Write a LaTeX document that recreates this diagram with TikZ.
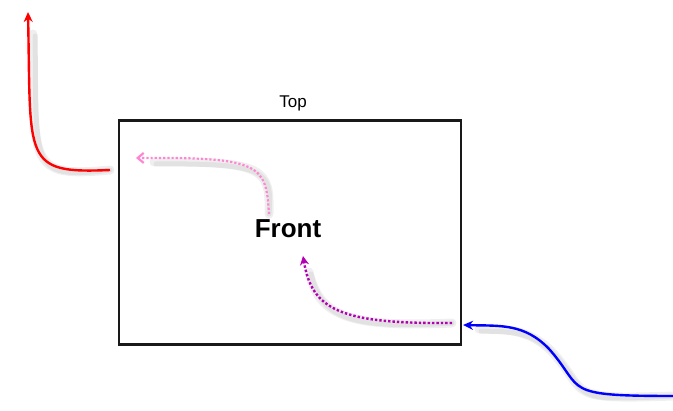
\documentclass[tikz,border=0pt]{standalone}
\usepackage{fontspec}
\setmainfont{Liberation Sans}
\usetikzlibrary{arrows.meta}
\tikzset{
  shad/.style={draw=black!60, opacity=0.1, line cap=round},
  redarr/.style={draw=red, line width=2.4pt, -{Stealth[length=10pt,width=9pt]}},
  bluearr/.style={draw=blue, line width=2.4pt, -{Stealth[length=10pt,width=9pt]}},
  pinkarr/.style={draw=pink!70!magenta, line width=2.2pt, dotted, -{Straight Barb[length=6pt,width=10pt]}},
  purparr/.style={draw=violet!60!magenta, line width=2.4pt, dotted, -{Stealth[length=9pt,width=9pt]}},
  framebox/.style={draw=black!90, line width=2.4pt},
}
\begin{document}
\begin{tikzpicture}[x=1pt,y=-1pt]
\useasboundingbox (0,0) rectangle (673,411);
% frame
\node[framebox, minimum width=342pt, minimum height=224pt, inner sep=0pt] (box) at (290,232.5) {};
\node[font=\fontsize{17}{19}\selectfont] (top) at (293,103) {Top};
\node[font=\fontsize{26}{30}\selectfont\bfseries] (front) at (288,229) {Front};
% coordinates
\coordinate (r0) at (110,170);
\coordinate (r1) at (28,12);
\coordinate (b0) at (673,396);
\coordinate (b1) at (463,325);
\coordinate (p0) at (269,214);
\coordinate (p1) at (136,158);
\coordinate (q0) at (452,323);
\coordinate (q1) at (303,256);
% shadows
\foreach \o/\w in {4/9,6/5}{
\draw[shad, line width=\w pt, shift={(\o,\o)}] (r0) .. controls (22,174) and (31,160) .. (29,30);
\draw[shad, line width=\w pt, shift={(\o,\o)}] (b0) .. controls (560,396) and (585,390) .. (550,350) .. controls (525,323) and (500,326) .. (475,325);
\draw[shad, line width=\w pt, shift={(\o,\o)}] (p0) .. controls (266,165) and (262,157) .. (150,158);
\draw[shad, line width=\w pt, shift={(\o,\o)}] (q0) .. controls (340,324) and (315,310) .. (305,268);
}
% arrows
\draw[redarr] (r0) .. controls (22,174) and (31,160) .. (r1);
\draw[bluearr] (b0) .. controls (560,396) and (585,390) .. (550,350) .. controls (525,323) and (500,326) .. (b1);
\draw[pinkarr] (p0) .. controls (266,165) and (262,157) .. (p1);
\draw[purparr] (q0) .. controls (340,324) and (312,310) .. (q1);
\end{tikzpicture}
\end{document}
